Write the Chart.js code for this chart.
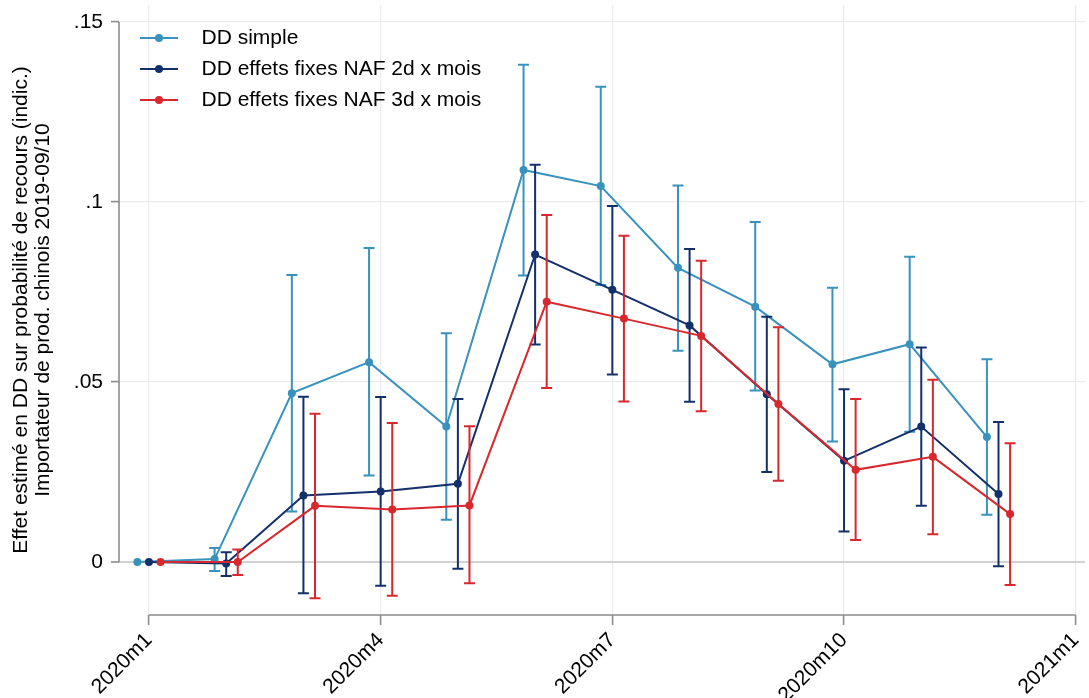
<!DOCTYPE html>
<html lang="fr">
<head>
<meta charset="utf-8">
<title>Effet estimé en DD</title>
<script src="https://cdn.jsdelivr.net/npm/chart.js@4.4.0/dist/chart.umd.min.js"></script>
<style>
  html, body { margin: 0; padding: 0; background: #fff; }
  #wrap { width: 1089px; height: 698px; position: relative; }
</style>
</head>
<body>
<div id="wrap"><canvas id="ddChart"></canvas></div>
<script>
// Months counted from 2020m1
const months = [0, 1, 2, 3, 4, 5, 6, 7, 8, 9, 10, 11];
const tickMonths = [0, 3, 6, 9, 12];
const tickLabels = ['2020m1', '2020m4', '2020m7', '2020m10', '2021m1'];
const yTicks = [0, 0.05, 0.1, 0.15];
const yTickLabels = ['0', '.05', '.1', '.15'];

// DD simple
const ddSimple   = [0, 0.0008, 0.0469, 0.0555, 0.0376, 0.1089, 0.1044, 0.0817, 0.0709, 0.0549, 0.0605, 0.0347];
const ddSimpleLo = [0, -0.0025, 0.0140, 0.0240, 0.0117, 0.0796, 0.0769, 0.0587, 0.0476, 0.0335, 0.0362, 0.0131];
const ddSimpleHi = [0, 0.0039, 0.0797, 0.0872, 0.0635, 0.1381, 0.1320, 0.1046, 0.0944, 0.0762, 0.0848, 0.0563];

// DD effets fixes NAF 2d x mois
const fe2d   = [0, -0.0004, 0.0185, 0.0196, 0.0217, 0.0854, 0.0756, 0.0657, 0.0466, 0.0281, 0.0376, 0.0189];
const fe2dLo = [0, -0.0039, -0.0087, -0.0066, -0.0019, 0.0604, 0.0521, 0.0445, 0.0250, 0.0085, 0.0156, -0.0012];
const fe2dHi = [0, 0.0027, 0.0459, 0.0458, 0.0453, 0.1103, 0.0989, 0.0869, 0.0681, 0.0480, 0.0596, 0.0389];

// DD effets fixes NAF 3d x mois
const fe3d   = [0, 0, 0.0156, 0.0146, 0.0157, 0.0723, 0.0676, 0.0628, 0.0439, 0.0256, 0.0292, 0.0133];
const fe3dLo = [0, -0.0036, -0.0101, -0.0094, -0.0059, 0.0483, 0.0446, 0.0419, 0.0226, 0.0061, 0.0077, -0.0064];
const fe3dHi = [0, 0.0035, 0.0412, 0.0386, 0.0377, 0.0964, 0.0906, 0.0837, 0.0652, 0.0453, 0.0506, 0.0330];

const seriesNames = ['DD simple', 'DD effets fixes NAF 2d x mois', 'DD effets fixes NAF 3d x mois'];
const colors = ['#3892bd', '#13306b', '#d8282d'];
const dodge = [-0.15, 0, 0.15];   // horizontal shift so the bars don't overlap
const capHalf = 5.5;
const FONT = "'Liberation Sans', Arial, Helvetica, sans-serif";

function toPoints(values, shift) {
    return months.map((m, i) => ({ x: m + shift, y: values[i] }));
}

// Legend sample: short line with a dot in the middle
function legendSample(color) {
    const c = document.createElement('canvas');
    c.width = 62; c.height = 12;
    const g = c.getContext('2d');
    g.strokeStyle = color; g.lineWidth = 2;
    g.beginPath(); g.moveTo(11, 6); g.lineTo(49, 6); g.stroke();
    g.fillStyle = color;
    g.beginPath(); g.arc(30, 6, 4, 0, Math.PI * 2); g.fill();
    return c;
}

// Confidence intervals drawn as capped vertical bars under each series
const errorBars = {
    id: 'errorBars',
    beforeDatasetDraw(chart, args) {
        const ds = chart.data.datasets[args.index];
        if (!ds.lo) return;
        const ctx = chart.ctx, xs = chart.scales.x, ys = chart.scales.y;
        ctx.save();
        ctx.strokeStyle = ds.borderColor;
        ctx.lineWidth = 2;
        ds.data.forEach((p, i) => {
            if (ds.lo[i] === ds.hi[i]) return;
            const x = xs.getPixelForValue(p.x);
            const y0 = ys.getPixelForValue(ds.lo[i]);
            const y1 = ys.getPixelForValue(ds.hi[i]);
            ctx.beginPath();
            ctx.moveTo(x, y0); ctx.lineTo(x, y1);
            ctx.moveTo(x - capHalf, y0); ctx.lineTo(x + capHalf, y0);
            ctx.moveTo(x - capHalf, y1); ctx.lineTo(x + capHalf, y1);
            ctx.stroke();
        });
        ctx.restore();
    }
};

// Axis lines only span the labelled range (0 to .15, 2020m1 to 2021m1)
const axisLines = {
    id: 'axisLines',
    beforeDatasetsDraw(chart) {
        const ctx = chart.ctx, xs = chart.scales.x, ys = chart.scales.y, area = chart.chartArea;
        ctx.save();
        ctx.strokeStyle = '#8c8c8c';
        ctx.lineWidth = 1.6;
        ctx.beginPath();
        ctx.moveTo(area.left, ys.getPixelForValue(yTicks[0]));
        ctx.lineTo(area.left, ys.getPixelForValue(yTicks[yTicks.length - 1]));
        ctx.moveTo(xs.getPixelForValue(tickMonths[0]), area.bottom);
        ctx.lineTo(xs.getPixelForValue(tickMonths[tickMonths.length - 1]), area.bottom);
        ctx.stroke();
        ctx.restore();
    }
};

// no extra room for labels hanging past the ends of an axis
function noOverhang(s) {
    s.paddingTop = 0; s.paddingBottom = 0;
    s.paddingLeft = 0; s.paddingRight = 0;
}

const lows = [ddSimpleLo, fe2dLo, fe3dLo];
const highs = [ddSimpleHi, fe2dHi, fe3dHi];
const values = [ddSimple, fe2d, fe3d];

const datasets = values.map((v, k) => ({
    label: seriesNames[k],
    data: toPoints(v, dodge[k]),
    lo: lows[k],
    hi: highs[k],
    borderColor: colors[k],
    backgroundColor: colors[k],
    borderWidth: 2,
    pointRadius: 4,
    pointBorderWidth: 0,
    pointBackgroundColor: colors[k],
    tension: 0,
    order: 3 - k
}));

new Chart(document.getElementById('ddChart'), {
    type: 'line',
    data: { datasets },
    plugins: [errorBars, axisLines],
    options: {
        responsive: true,
        maintainAspectRatio: false,
        animation: false,
        layout: { padding: { top: 5, right: 4, left: 0, bottom: 0 } },
        plugins: {
            tooltip: { enabled: false },
            legend: {
                position: 'chartArea',
                align: 'start',
                title: { display: true, text: ' ', font: { size: 2, lineHeight: 1 }, padding: { top: 0, bottom: 15.5 } },
                labels: {
                    usePointStyle: true,
                    pointStyleWidth: 62,
                    padding: 10,
                    color: '#000',
                    font: { family: FONT, size: 21 },
                    generateLabels(chart) {
                        return chart.data.datasets.map((ds, i) => ({
                            text: ds.label,
                            pointStyle: legendSample(ds.borderColor),
                            fillStyle: ds.borderColor,
                            strokeStyle: ds.borderColor,
                            lineWidth: 0,
                            fontColor: '#000',
                            hidden: false,
                            datasetIndex: i
                        }));
                    }
                }
            }
        },
        scales: {
            x: {
                type: 'linear',
                min: -0.388,
                max: 12.12,
                afterBuildTicks: s => { s.ticks = tickMonths.map(v => ({ value: v })); },
                afterFit: s => { s.height = 83; noOverhang(s); },
                border: { display: false },
                grid: {
                    color: '#ececec',
                    lineWidth: 1.2,
                    tickLength: 10,
                    tickColor: '#8c8c8c',
                    tickWidth: 1.6
                },
                ticks: {
                    autoSkip: false,
                    maxRotation: 45,
                    minRotation: 45,
                    padding: 3,
                    color: '#000',
                    font: { family: FONT, size: 21 },
                    callback: v => tickLabels[tickMonths.indexOf(v)]
                }
            },
            y: {
                min: -0.01472,
                max: 0.1547,
                afterBuildTicks: s => { s.ticks = yTicks.map(v => ({ value: v })); },
                afterFit: s => { s.width = 119; noOverhang(s); },
                border: { display: false },
                grid: {
                    color: c => (c.tick && c.tick.value === 0 ? '#d2d2d2' : '#ececec'),
                    lineWidth: c => (c.tick && c.tick.value === 0 ? 2 : 1.2),
                    tickLength: 8,
                    tickColor: '#8c8c8c',
                    tickWidth: 1.6
                },
                ticks: {
                    padding: 8,
                    color: '#000',
                    font: { family: FONT, size: 21 },
                    callback: v => yTickLabels[yTicks.indexOf(v)]
                },
                title: {
                    display: true,
                    text: ['Effet estimé en DD sur probabilité de recours (indic.)',
                           'Importateur de prod. chinois 2019-09/10'],
                    color: '#000',
                    font: { family: FONT, size: 21, lineHeight: 1.05 },
                    padding: { top: 10, bottom: 0 }
                }
            }
        }
    }
});
</script>
</body>
</html>
